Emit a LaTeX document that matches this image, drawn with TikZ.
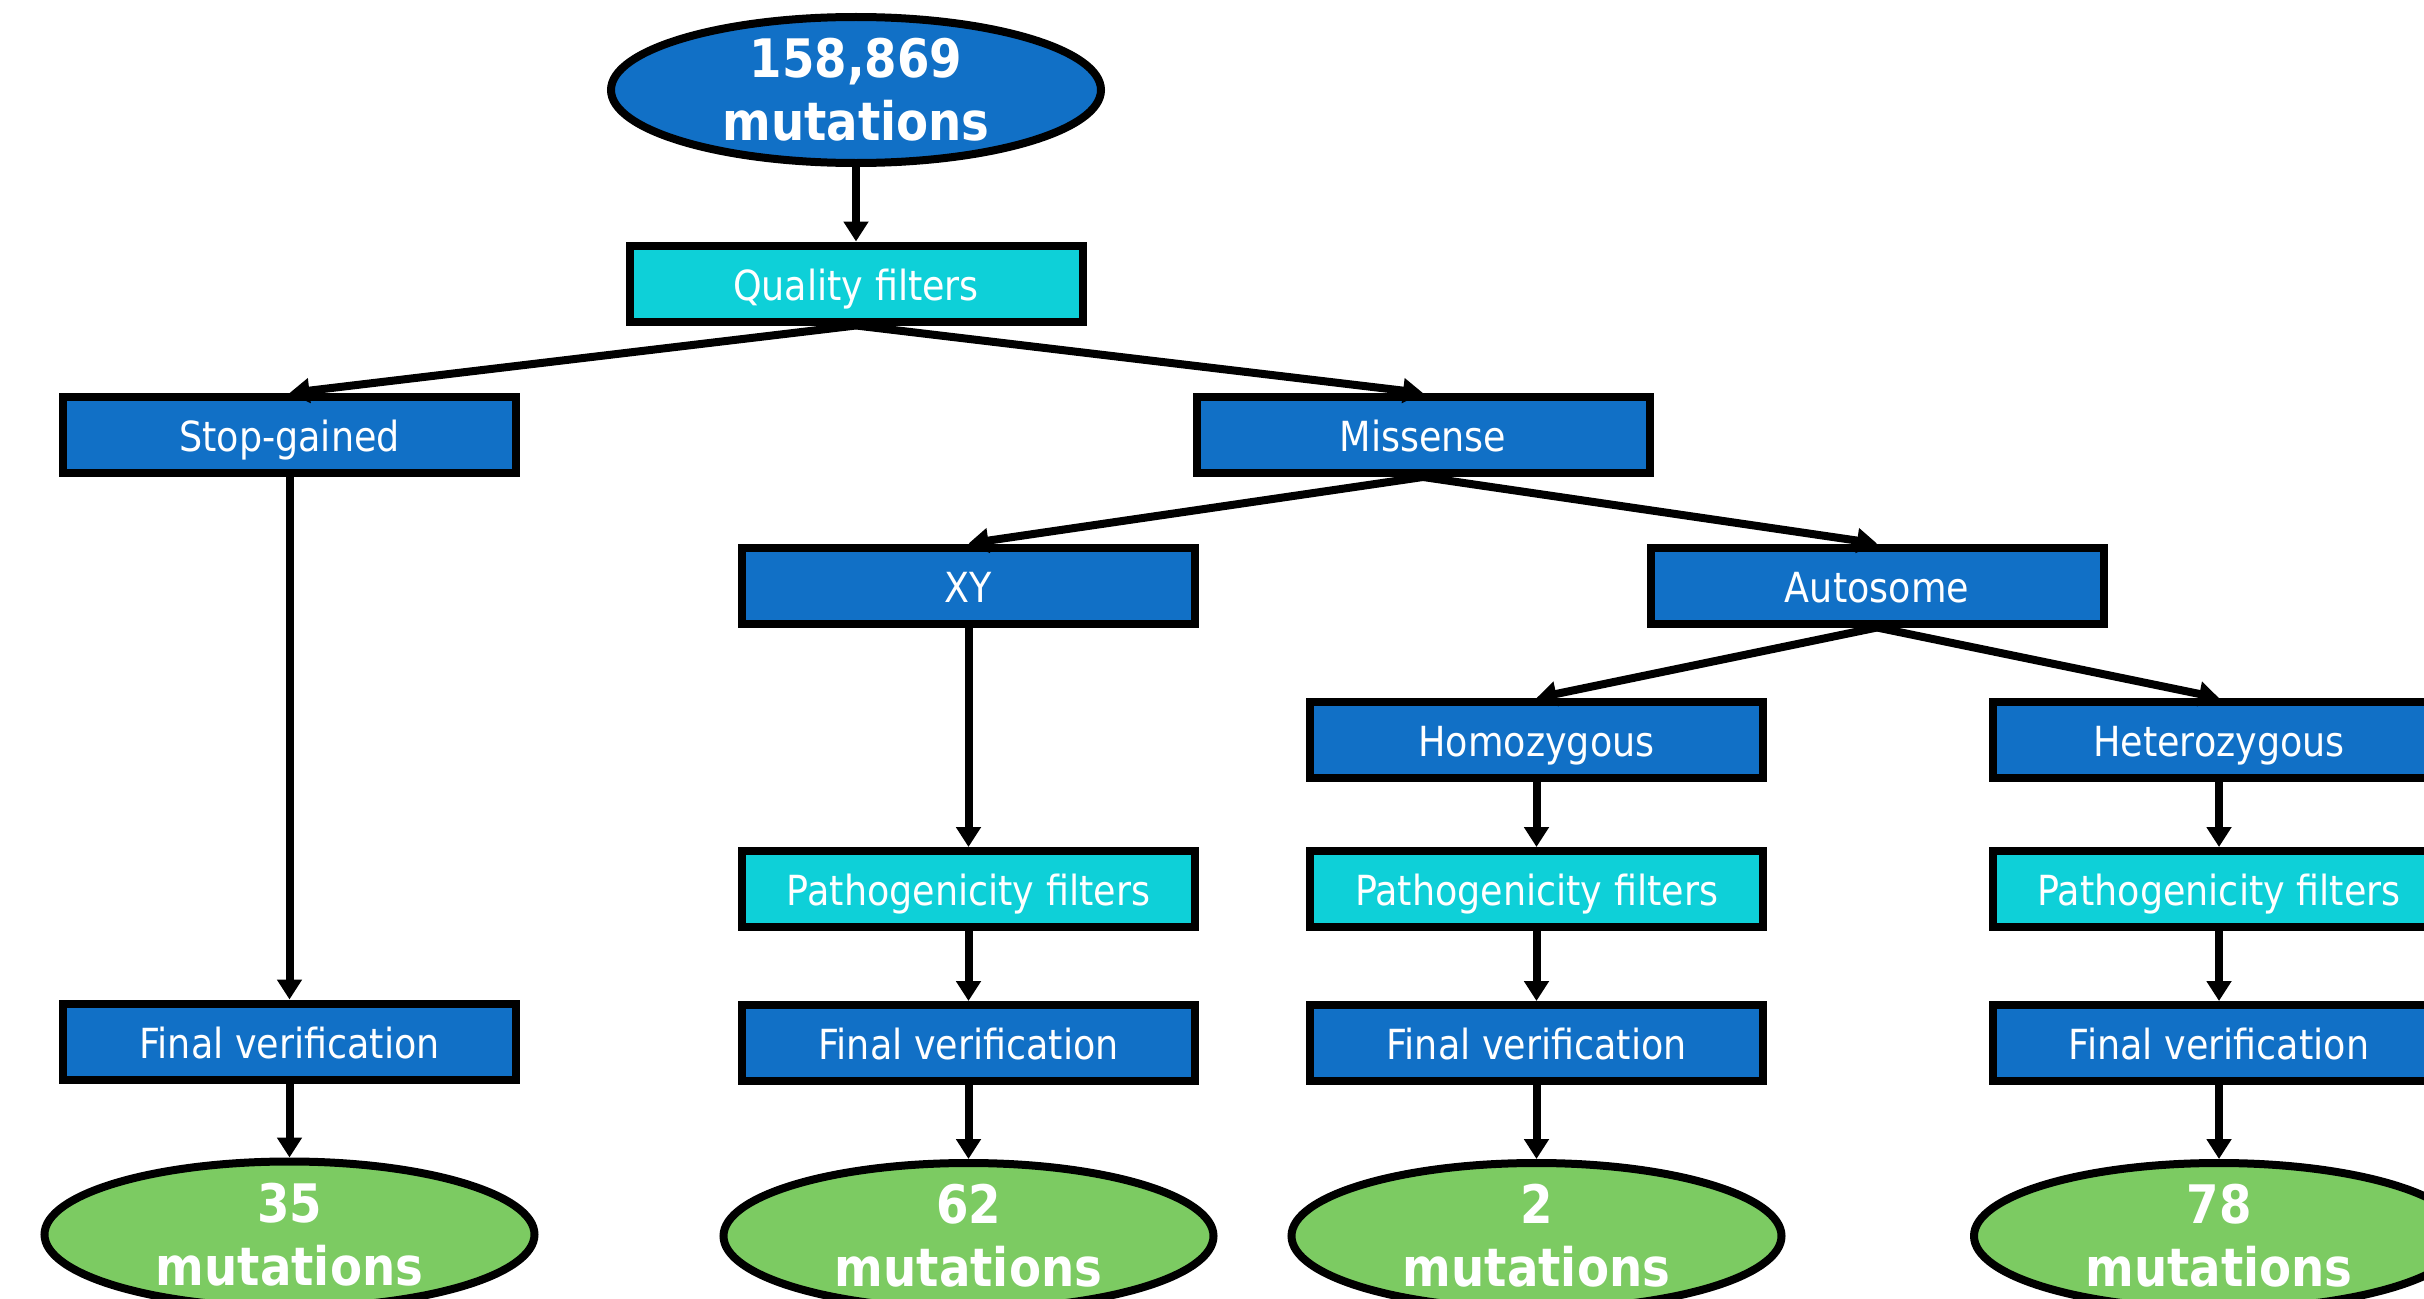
\documentclass[tikz,border=0pt]{standalone}
\usepackage{fontspec}
\setmainfont{DejaVu Sans}[FakeStretch=0.88]
\usetikzlibrary{shapes.geometric, arrows.meta, positioning}
\definecolor{stepBlue}{RGB}{17, 112, 198}
\definecolor{filterCyan}{RGB}{14, 208, 216}
\definecolor{resultGreen}{RGB}{124, 203, 98}

\begin{document}
\begin{tikzpicture}[
    node distance=0.7cm,
    stepbox/.style={rectangle, draw=black, line width=0.08cm, fill=stepBlue, minimum width=4.53cm, minimum height=0.76cm, inner sep=0pt, text=white, font=\fontsize{11.8}{14}\selectfont, text height=9.5pt, text depth=0pt},
    filterbox/.style={stepbox, fill=filterCyan},
    tally/.style={ellipse, draw=black, line width=0.08cm, fill=resultGreen, minimum width=4.90cm, minimum height=1.46cm, inner xsep=0pt, inner ysep=-0.1cm, align=center, text=white, font=\bfseries\fontsize{15.1}{17.9}\selectfont},
    arrow/.style={-{Triangle[length=2mm, width=2.4mm]}, line width=0.08cm, black}
]
    \clip (0,0) rectangle (24.24,-12.99);

    % Nodes
    \node[tally, fill=stepBlue] (all) at (8.56,-0.90) {158,869\\mutations};
    \node[filterbox] (quality) at (8.56,-2.835) {Quality filters};
    \node[stepbox] (stop) at (2.895,-4.35) {Stop-gained};
    \node[stepbox] (missense) at (14.23,-4.35) {Missense};
    \node[stepbox] (xy) at (9.685,-5.855) {XY};
    \node[stepbox] (autosome) at (18.77,-5.855) {Autosome};
    \node[stepbox] (homo) at (15.365,-7.40) {Homozygous};
    \node[stepbox] (hetero) at (22.19,-7.40) {Heterozygous};

    \node[filterbox] (xyfilt) at (9.685,-8.89) {Pathogenicity filters};
    \node[filterbox] (homofilt) at (15.365,-8.89) {Pathogenicity filters};
    \node[filterbox] (hetfilt) at (22.19,-8.89) {Pathogenicity filters};

    \node[stepbox] (stopfinal) at (2.895,-10.415) {Final verification};
    \node[stepbox, below=of xyfilt] (xyfinal) {Final verification};
    \node[stepbox, below=of homofilt] (homofinal) {Final verification};
    \node[stepbox, below=of hetfilt] (hetfinal) {Final verification};

    \node[tally, below=0.74cm of stopfinal] (stopres) {35\\mutations};
    \node[tally, below=0.74cm of xyfinal] (xyres) {62\\mutations};
    \node[tally, below=0.74cm of homofinal] (homores) {2\\mutations};
    \node[tally, below=0.74cm of hetfinal] (hetres) {78\\mutations};

    % Links
    \draw[arrow] (all) -- (quality);
    \draw[arrow] (quality.south) -- (stop.north);
    \draw[arrow] (quality.south) -- (missense.north);
    \draw[arrow] (missense.south) -- (xy.north);
    \draw[arrow] (missense.south) -- (autosome.north);
    \draw[arrow] (autosome.south) -- (homo.north);
    \draw[arrow] (autosome.south) -- (hetero.north);

    \draw[arrow] (stop) -- (stopfinal);
    \draw[arrow] (xy) -- (xyfilt);
    \draw[arrow] (homo) -- (homofilt);
    \draw[arrow] (hetero) -- (hetfilt);
    \draw[arrow] (xyfilt) -- (xyfinal);
    \draw[arrow] (homofilt) -- (homofinal);
    \draw[arrow] (hetfilt) -- (hetfinal);

    \draw[arrow] (stopfinal) -- (stopres);
    \draw[arrow] (xyfinal) -- (xyres);
    \draw[arrow] (homofinal) -- (homores);
    \draw[arrow] (hetfinal) -- (hetres);
\end{tikzpicture}
\end{document}
